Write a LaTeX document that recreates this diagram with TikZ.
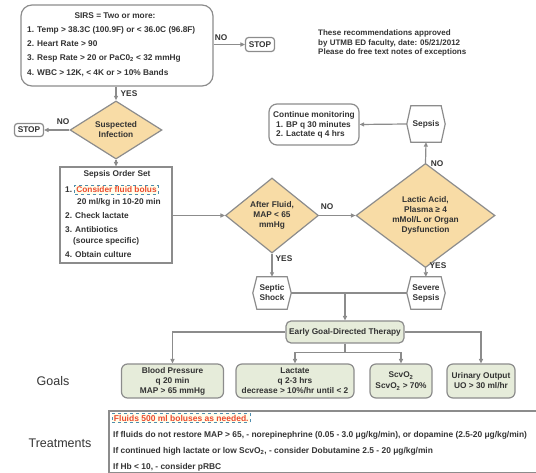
\documentclass[tikz,border=0pt]{standalone}
\usepackage{fontspec}
\setmainfont{Liberation Sans}
\usetikzlibrary{shapes.geometric,arrows.meta}
\definecolor{ln}{HTML}{8C8C8C}
\definecolor{tx}{HTML}{333333}
\definecolor{dia}{HTML}{F8DCA6}
\definecolor{grn}{HTML}{E6ECDA}
\definecolor{rd}{HTML}{EC4A2C}
\definecolor{dsh}{HTML}{4E8DAE}
\newcommand\fsz{\bfseries\fontsize{8.3}{10}\selectfont}
\newcommand\tsz{\bfseries\fontsize{8.4}{10}\selectfont}
\newcommand\drawhex[1]{\draw[hexline] (#1.west) -- ([xshift=4pt]#1.north west) -- ([xshift=-4pt]#1.north east) -- (#1.east) -- ([xshift=-4pt]#1.south east) -- ([xshift=4pt]#1.south west) -- cycle;}
\begin{document}
\begin{tikzpicture}[x=1pt,y=-1pt,
 every node/.style={text=tx, font=\fsz},
 box/.style={draw=ln, line width=1.2pt, inner sep=0},
 rbox/.style={box, rounded corners=8pt},
 dec/.style={diamond, draw=ln, line width=1.2pt, fill=dia, inner sep=0, align=center},
 hexnode/.style={inner sep=0, align=center},
 hexline/.style={draw=ln, line width=1.2pt},
 goal/.style={rbox, rounded corners=6pt, fill=grn, align=center},
 arr/.style={draw=ln, line width=1.2pt, -{Triangle[length=4.5pt,width=4pt]}},
 con/.style={draw=ln, line width=1.2pt},
 ltxt/.style={inner sep=0, anchor=west},
 ctxt/.style={inner sep=0},
 dbox/.style={draw=dsh, dashed, line width=0.9pt, fill=yellow!7, text=rd, inner sep=1.5pt},
]
\useasboundingbox (0,0) rectangle (536,473);
% SIRS
\node[rbox, rounded corners=11pt, minimum width=192pt, minimum height=81pt] (sirs) at (117,45.5) {};
\node[ctxt] (sirs0) at (115,16) {SIRS = Two or more:};
\node[ltxt] (sirs1) at (27,30) {1. Temp > 38.3C (100.9F) or < 36.0C (96.8F)};
\node[ltxt] (sirs2) at (27,44) {2. Heart Rate > 90};
\node[ltxt] (sirs3) at (27,58) {3. Resp Rate > 20 or PaC0\textsubscript{2} < 32 mmHg};
\node[ltxt] (sirs4) at (27,73) {4. WBC > 12K, < 4K or > 10\% Bands};
\node[rbox, rounded corners=3pt, minimum width=29pt, minimum height=14pt] (stop1) at (260,44.5) {STOP};
\draw[arr] (sirs.east |- stop1.west) -- (stop1.west);
\node[ctxt] (no1) at (221,38) {NO};
% notes
\node[ltxt, anchor=north west, align=left, font=\bfseries\fontsize{8}{9.5}\selectfont] (notes) at (318,30) {These recommendations approved\\by UTMB ED faculty, date: 05/21/2012\\Please do free text notes of exceptions};
% suspected infection
\node[dec, minimum width=92pt, minimum height=56pt] (susp) at (116,130) {Suspected\\Infection};
\draw[arr] (sirs.south -| susp.north) -- (susp.north);
\node[ctxt] (yes1) at (129,94) {YES};
\node[rbox, rounded corners=3pt, minimum width=29pt, minimum height=13pt] (stop2) at (29,130) {STOP};
\draw[arr] (susp.west) -- (stop2.east);
\node[ctxt] (no2) at (63,122) {NO};
% order set
\node[box, minimum width=112pt, minimum height=96pt] (order) at (116,215) {};
\draw[arr] (susp.south) -- (order.north);
\node[ctxt] (ord0) at (117,174) {Sepsis Order Set};
\node[ltxt] (ord1) at (65,190) {1.};
\node[dbox] (bolus) at (116.5,190) {Consider fluid bolus};
\node[ltxt] (ord1b) at (77,202) {20 ml/kg in 10-20 min};
\node[ltxt] (ord2) at (65,216) {2. Check lactate};
\node[ltxt] (ord3) at (65,230) {3. Antibiotics};
\node[ltxt] (ord3b) at (73,241) {(source specific)};
\node[ltxt] (ord4) at (65,255) {4. Obtain culture};
% after fluid
\node[dec, minimum width=93pt, minimum height=75pt] (af) at (272,215.5) {After Fluid,\\MAP < 65\\mmHg};
\draw[arr] (order.east |- af.west) -- (af.west);
% lactic
\node[dec, minimum width=139pt, minimum height=87pt] (lac) at (425.5,215.5) {Lactic Acid,\\Plasma ≥ 4\\mMol/L or Organ\\Dysfunction};
\draw[arr] (af.east) -- (lac.west);
\node[ctxt] (no3) at (327,207) {NO};
% sepsis
\node[hexnode, minimum width=38pt, minimum height=36pt] (sepsis) at (426,124) {Sepsis};
\drawhex{sepsis}
\draw[arr] (lac.north) -- (sepsis.south);
\node[ctxt] (no4) at (437,164) {NO};
% continue monitoring
\node[rbox, minimum width=90pt, minimum height=41pt] (cont) at (314,124.5) {};
\node[ltxt] (cont0) at (273,115) {Continue monitoring};
\node[ltxt] (cont1) at (276,125) {1. BP q 30 minutes};
\node[ltxt] (cont2) at (276,134) {2. Lactate q 4 hrs};
\draw[arr] (sepsis.west) -- (cont.east);
% shock / severe
\node[hexnode, minimum width=38pt, minimum height=32pt] (shock) at (272,293) {Septic\\Shock};
\drawhex{shock}
\node[hexnode, minimum width=38pt, minimum height=32pt] (severe) at (426,293) {Severe\\Sepsis};
\drawhex{severe}
\draw[arr] (af.south) -- (shock.north);
\node[ctxt] (yes2) at (284,259) {YES};
\draw[arr] (lac.south) -- (severe.north);
\node[ctxt] (yes3) at (438,266) {YES};
\draw[con] (shock.east) -- (severe.west);
% EGDT
\node[goal, minimum width=118pt, minimum height=22pt, rounded corners=5pt] (egdt) at (345,332) {Early Goal-Directed Therapy};
\draw[arr] (egdt.north |- shock.east) -- (egdt.north);
% goals
\node[goal, minimum width=102pt, minimum height=34pt, font=\bfseries\fontsize{8.3}{10}\selectfont] (bp) at (172.5,381) {Blood Pressure\\q 20 min\\MAP > 65 mmHg};
\node[goal, minimum width=118pt, minimum height=34pt, font=\bfseries\fontsize{8.3}{10}\selectfont] (lact) at (295,381) {Lactate\\q 2-3 hrs\\decrease > 10\%/hr until < 2};
\node[goal, minimum width=62pt, minimum height=34pt, font=\bfseries\fontsize{8.3}{11}\selectfont] (scvo) at (401,381) {ScvO\textsubscript{2}\\ScvO\textsubscript{2} > 70\%};
\node[goal, minimum width=68pt, minimum height=34pt, font=\bfseries\fontsize{8.3}{10}\selectfont] (uo) at (481,381) {Urinary Output\\UO > 30 ml/hr};
\draw[arr] (egdt.west) -| (bp.north);
\draw[arr] (egdt.east) -| (uo.north);
\draw[con] (egdt.south) -- ++(0,9) coordinate (split);
\draw[arr] (split) -| (lact.north);
\draw[arr] (split) -| (scvo.north);
\node[ctxt, font=\fontsize{12.5}{14}\selectfont] (goals) at (53,381) {Goals};
\node[ctxt, font=\fontsize{12.5}{14}\selectfont] (treats) at (60,443) {Treatments};
% treatments
\draw[con] (536,411) -- (109,411) -- (109,472.4) -- (536,472.4);
\node[dbox, anchor=west, font=\bfseries\fontsize{8.5}{10}\selectfont] (fluids) at (112,418) {Fluids 500 ml boluses as needed.};
\node[ltxt, font=\tsz] (tr1) at (113,435) {If fluids do not restore MAP > 65, - norepinephrine (0.05 - 3.0 μg/kg/min), or dopamine (2.5-20 μg/kg/min)};
\node[ltxt, font=\tsz] (tr2) at (113,451) {If continued high lactate or low ScvO\textsubscript{2}, - consider Dobutamine 2.5 - 20 μg/kg/min};
\node[ltxt, font=\tsz] (tr3) at (113,467) {If Hb < 10, - consider pRBC};
\end{tikzpicture}
\end{document}
